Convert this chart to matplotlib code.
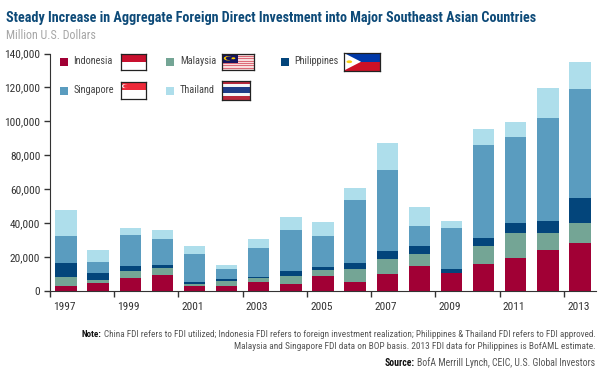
import matplotlib
matplotlib.use('Agg')
import matplotlib.pyplot as plt
import numpy as np
from matplotlib.patches import Rectangle, Polygon, Circle

years = np.arange(1997, 2014)
# cumulative tops, thousand USD
indonesia_top = [3, 4.5, 7.8, 9.6, 3, 2.8, 5.1, 4.1, 8.6, 5.5, 10, 14.5, 10.4, 15.7, 19.2, 24.1, 28.4]
malaysia_top = [8, 6.7, 11.8, 13.3, 4.1, 5.9, 7.5, 8.6, 12.5, 13.1, 18.8, 22, 10.9, 26.7, 34.1, 33.9, 39.8]
philippines_top = [16.3, 10.8, 14.5, 15.1, 5.1, 6.9, 8.2, 11.6, 14.3, 16.5, 23.7, 26.3, 13.1, 31, 40.2, 41, 55.1]
singapore_top = [32.2, 16.9, 33.3, 30.6, 21.8, 13, 25.1, 36, 32.4, 53.5, 71.6, 38.4, 36.9, 86.3, 90.8, 102, 118.8]
thailand_top = [47.7, 24.3, 37, 36, 26.7, 15.5, 30.4, 43.9, 40.6, 60.6, 87.5, 49.4, 41.2, 95.3, 99.8, 119.5, 134.9]

names = ['Indonesia', 'Malaysia', 'Philippines', 'Singapore', 'Thailand']
colors = ['#a10035', '#74a595', '#03457b', '#5a9cbf', '#aedeeb']
tops = [indonesia_top, malaysia_top, philippines_top, singapore_top, thailand_top]

W, H = 611, 383
plt.rcParams['font.family'] = ['Roboto Condensed', 'Liberation Sans', 'DejaVu Sans']
fig = plt.figure(figsize=(W / 100, H / 100), dpi=100)
renderer = fig.canvas.get_renderer()

def px_axes(x0, y0, x1, y1):
    return fig.add_axes([x0 / W, 1 - y1 / H, (x1 - x0) / W, (y1 - y0) / H])

def fit_width(t, width):
    # rescale a text so it spans the given number of pixels
    box = t.get_window_extent(renderer)
    t.set_fontsize(t.get_fontsize() * width / box.width)

ax = px_axes(50, 53.5, 596, 291)
x = np.arange(len(years))
bottom = np.zeros(len(years))
for name, color, top in zip(names, colors, tops):
    top = np.array(top) * 1000
    ax.bar(x, top - bottom, 0.667, bottom=bottom, color=color, linewidth=0)
    bottom = top

ax.set_xlim(-0.5, 16.5)
ax.set_ylim(0, 140000)
ax.spines['top'].set_visible(False)
ax.spines['right'].set_visible(False)
ax.spines['left'].set_color('#333333')
ax.spines['bottom'].set_color('#333333')
ax.set_yticks(np.arange(0, 140001, 20000))
ax.set_yticklabels([f'{v:,}' for v in range(0, 140001, 20000)], fontsize=8.2, color='#333333')
ax.set_xticks(np.arange(-0.5, 16.5, 2))
ax.set_xticklabels([])
ax.tick_params(axis='y', length=4, width=1, color='#333333', pad=3)
ax.tick_params(axis='x', length=4, width=1, color='#333333')
for i in range(0, 17, 2):
    ax.text(i - 0.05, -9400, str(years[i]), ha='center', va='center', fontsize=8.2, color='#333333')

t = fig.text(6.5 / W, 1 - 18 / H, 'Steady Increase in Aggregate Foreign Direct Investment into Major Southeast Asian Countries',
             fontsize=10.5, fontweight='bold', color='#0d4a78', va='center')
fit_width(t, 532.5)
t = fig.text(6.5 / W, 1 - 35.5 / H, 'Million U.S. Dollars', fontsize=9.5, color='#a6a6a6', va='center')
fit_width(t, 91)

# legend swatches and labels
legend_pos = [(59.5, 62), (166, 62), (280.5, 62), (59.5, 90.5), (166, 90.5)]
for name, color, (lx, ly) in zip(names, colors, legend_pos):
    fig.add_artist(Rectangle((lx / W, 1 - (ly + 4) / H), 8 / W, 8 / H, color=color, lw=0,
                             transform=fig.transFigure))
    fig.text((lx + 14) / W, 1 - (ly - 0.5) / H, name, fontsize=7.4, color='#444444', va='center')

def flag_axes(x0, y0, x1, y1):
    fa = px_axes(x0, y0, x1, y1)
    fa.set_xlim(0, 1)
    fa.set_ylim(1, 0)
    fa.set_xticks([])
    fa.set_yticks([])
    for s in fa.spines.values():
        s.set_linewidth(0.9)
        s.set_color('#222222')
    return fa

# Indonesia
fa = flag_axes(120.5, 53.5, 145.5, 70)
fa.add_patch(Rectangle((0, 0), 1, 0.5, color='#c8102e', lw=0))
# Singapore
fa = flag_axes(120.5, 82, 145.5, 98.5)
fa.add_patch(Rectangle((0, 0), 1, 0.5, color='#ed2939', lw=0))
fa.add_patch(Circle((0.17, 0.25), 0.12, color='white', lw=0))
fa.add_patch(Circle((0.22, 0.25), 0.11, color='#ed2939', lw=0))
# Malaysia
fa = flag_axes(222.5, 53.5, 254.5, 70)
for i in range(14):
    fa.add_patch(Rectangle((0, i / 14), 1, 1 / 14, color='#dc6a78' if i % 2 == 0 else '#f8dcdc', lw=0))
fa.add_patch(Rectangle((0, 0), 0.5, 8 / 14, color='#14145e', lw=0))
fa.add_patch(Circle((0.17, 0.29), 0.13, color='#ffcc00', lw=0))
fa.add_patch(Circle((0.21, 0.29), 0.11, color='#14145e', lw=0))
fa.add_patch(Circle((0.34, 0.29), 0.06, color='#ffcc00', lw=0))
# Thailand
fa = flag_axes(222.5, 81, 250, 99.5)
for y0, h, c in [(0, 1 / 6, '#b8283c'), (1 / 6, 1 / 6, '#f4f5f8'), (2 / 6, 2 / 6, '#1f3c88'),
                 (4 / 6, 1 / 6, '#f4f5f8'), (5 / 6, 1 / 6, '#b8283c')]:
    fa.add_patch(Rectangle((0, y0), 1, h, color=c, lw=0))
# Philippines
fa = flag_axes(344, 53, 379.5, 70.5)
fa.add_patch(Rectangle((0, 0), 1, 0.5, color='#0038a8', lw=0))
fa.add_patch(Rectangle((0, 0.5), 1, 0.5, color='#ce1126', lw=0))
fa.add_patch(Polygon([(0, 0), (0.48, 0.5), (0, 1)], color='white', lw=0))
fa.add_patch(Circle((0.15, 0.5), 0.08, color='#fcd116', lw=0))

# footnotes, right aligned with bold lead-ins placed next to the measured text
note_color = '#555555'
def footnote(y, text, lead=None, width=None):
    t = fig.text(595.5 / W, 1 - y / H, text, fontsize=7, color=note_color, ha='right', va='center')
    if width:
        fit_width(t, width)
    if lead:
        box = t.get_window_extent(renderer)
        fig.text((box.x0 - 2.5) / W, 1 - y / H, lead, fontsize=t.get_fontsize(), fontweight='bold',
                 color='#111111', ha='right', va='center')

footnote(334.5, 'China FDI refers to FDI utilized; Indonesia FDI refers to foreign investment realization; '
                'Philippines & Thailand FDI refers to FDI approved.', 'Note:', 489)
footnote(346.5, 'Malaysia and Singapore FDI data on BOP basis. 2013 FDI data for Philippines is BofAML estimate.', width=363)
footnote(363, 'BofA Merrill Lynch, CEIC, U.S. Global Investors', 'Source:', 178)

fig.savefig('out.png', dpi=100)
